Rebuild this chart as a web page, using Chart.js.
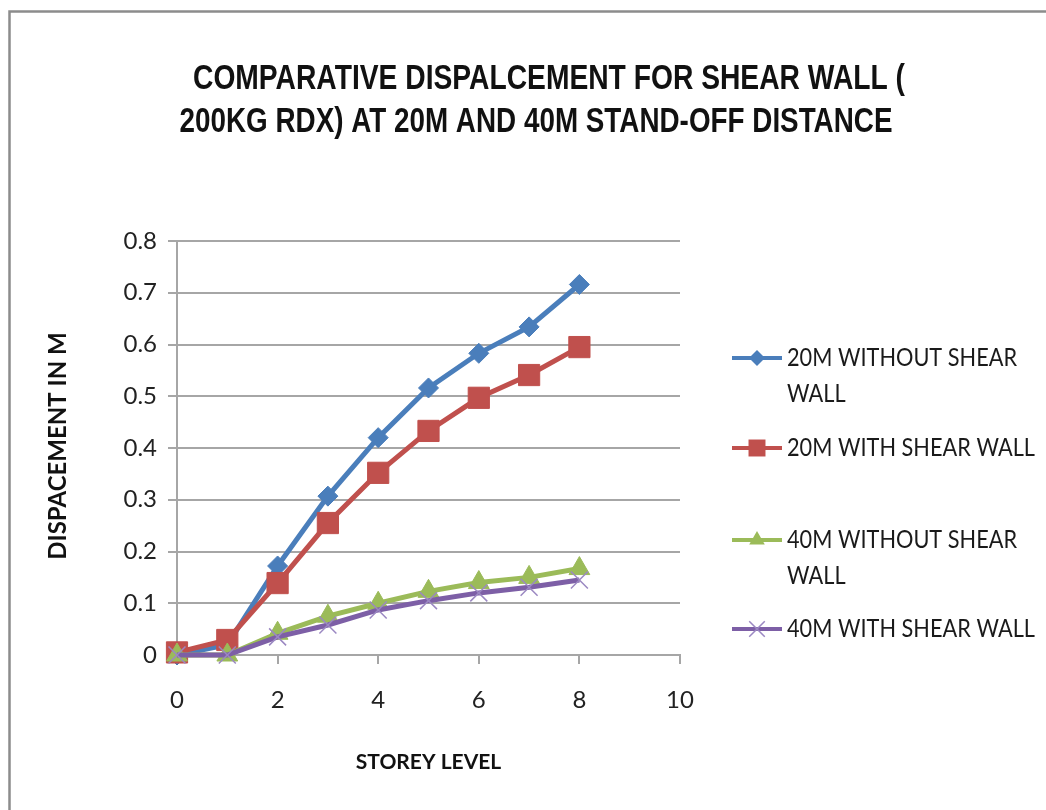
<!DOCTYPE html>
<html>
<head>
<meta charset="utf-8">
<script src="https://cdn.jsdelivr.net/npm/chart.js@4/dist/chart.umd.min.js"></script>
<style>
  html, body { margin: 0; padding: 0; background: #fff; }
  #wrap { width: 1046px; height: 810px; }
</style>
</head>
<body>
<div id="wrap"><canvas id="c" width="1046" height="810"></canvas></div>
<script>
// Storey levels and lateral displacement (m) for each case
const storeys = [0, 1, 2, 3, 4, 5, 6, 7, 8];
const disp20Without = [0, 0.02, 0.172, 0.307, 0.42, 0.516, 0.583, 0.634, 0.716];
const disp20With    = [0.005, 0.029, 0.139, 0.255, 0.352, 0.433, 0.497, 0.541, 0.595];
const disp40Without = [0, 0, 0.042, 0.075, 0.1, 0.123, 0.14, 0.15, 0.167];
const disp40With    = [0, 0, 0.035, 0.058, 0.087, 0.105, 0.12, 0.131, 0.145];

const seriesNames = [
  '20M WITHOUT SHEAR WALL',
  '20M WITH SHEAR WALL',
  '40M WITHOUT SHEAR WALL',
  '40M WITH SHEAR WALL'
];
const titleLines = [
  'COMPARATIVE DISPALCEMENT FOR SHEAR WALL (',
  '200KG RDX) AT 20M AND 40M STAND-OFF DISTANCE'
];
const xTitle = 'STOREY LEVEL';
const yTitle = 'DISPACEMENT IN M';

function pts(values) {
  return storeys.map((s, i) => ({ x: s, y: values[i] }));
}

const BLUE = '#4a7ebb', RED = '#c0504d', GREEN = '#9bbb59', PURPLE = '#7d5fa6', PURPLE_MK = '#9b88c2';

// marker painter used by the side legend
function drawMarker(ctx, style, x, y, r, fill, stroke) {
  ctx.save();
  ctx.beginPath();
  if (style === 'rectRot') {
    ctx.moveTo(x - r, y); ctx.lineTo(x, y - r); ctx.lineTo(x + r, y); ctx.lineTo(x, y + r); ctx.closePath();
    ctx.fillStyle = fill; ctx.fill();
  } else if (style === 'rect') {
    const s = r * Math.SQRT1_2;
    ctx.rect(x - s, y - s, 2 * s, 2 * s);
    ctx.fillStyle = fill; ctx.fill();
  } else if (style === 'triangle') {
    const a = -Math.PI / 2;
    for (let k = 0; k < 3; k++) {
      const t = a + k * 2 * Math.PI / 3;
      const px = x + Math.cos(t) * r, py = y + Math.sin(t) * r;
      k ? ctx.lineTo(px, py) : ctx.moveTo(px, py);
    }
    ctx.closePath();
    ctx.fillStyle = fill; ctx.fill();
  } else if (style === 'crossRot') {
    const d = r * Math.SQRT1_2;
    ctx.moveTo(x - d, y - d); ctx.lineTo(x + d, y + d);
    ctx.moveTo(x + d, y - d); ctx.lineTo(x - d, y + d);
    ctx.strokeStyle = stroke; ctx.lineWidth = 1.5; ctx.stroke();
  }
  ctx.restore();
}

// text squeezed horizontally to a given width
function fittedText(ctx, text, cx, baseline, font, width) {
  ctx.save();
  ctx.font = font;
  const w = ctx.measureText(text).width;
  const k = width / w;
  ctx.translate(cx, baseline);
  ctx.scale(k, 1);
  ctx.textAlign = 'center';
  ctx.textBaseline = 'alphabetic';
  ctx.fillText(text, 0, 0);
  ctx.restore();
}

const decor = {
  id: 'decor',
  beforeDraw(chart) {
    const ctx = chart.ctx;
    ctx.save();
    ctx.fillStyle = '#ffffff';
    ctx.fillRect(0, 0, chart.width, chart.height);
    // outer frame (top and left edges)
    ctx.strokeStyle = '#8c8c8c';
    ctx.lineWidth = 2.5;
    ctx.beginPath();
    ctx.moveTo(9.5, chart.height);
    ctx.lineTo(9.5, 11.5);
    ctx.lineTo(chart.width, 11.5);
    ctx.stroke();
    ctx.restore();
  },
  afterDraw(chart) {
    const ctx = chart.ctx;
    const area = chart.chartArea;
    ctx.save();
    ctx.fillStyle = '#111';
    // title
    fittedText(ctx, titleLines[0], 549, 89, 'bold 35px "Liberation Sans"', 712);
    fittedText(ctx, titleLines[1], 536, 132, 'bold 35px "Liberation Sans"', 713);

    // axis titles
    ctx.textAlign = 'center';
    ctx.textBaseline = 'middle';
    ctx.font = 'bold 21px Lato';
    ctx.fillText(xTitle, (area.left + area.right) / 2, 762);
    ctx.font = 'bold 24px Lato';
    ctx.save();
    ctx.translate(58, 446);
    ctx.rotate(-Math.PI / 2);
    ctx.fillText(yTitle, 0, 0);
    ctx.restore();

    // legend
    const rows = [
      { ds: 0, lines: ['20M WITHOUT SHEAR', 'WALL'], y: 358 },
      { ds: 1, lines: ['20M WITH SHEAR WALL'], y: 448 },
      { ds: 2, lines: ['40M WITHOUT SHEAR', 'WALL'], y: 540 },
      { ds: 3, lines: ['40M WITH SHEAR WALL'], y: 629 }
    ];
    const legendR = { rectRot: 8, rect: 12, triangle: 9, crossRot: 11 };
    const legendFont = '25px Lato';
    ctx.font = legendFont;
    const squeeze = 248 / ctx.measureText('20M WITH SHEAR WALL').width;
    rows.forEach(row => {
      const d = chart.data.datasets[row.ds];
      ctx.strokeStyle = d.borderColor;
      ctx.lineWidth = 4;
      ctx.beginPath();
      ctx.moveTo(732, row.y);
      ctx.lineTo(782, row.y);
      ctx.stroke();
      drawMarker(ctx, d.pointStyle, 757, row.y, legendR[d.pointStyle], d.pointBackgroundColor, d.pointBorderColor);
      ctx.fillStyle = '#1a1a1a';
      ctx.font = legendFont;
      ctx.textAlign = 'left';
      ctx.textBaseline = 'middle';
      row.lines.forEach((t, i) => {
        ctx.save();
        ctx.translate(787, row.y + i * 36);
        ctx.scale(squeeze, 1);
        ctx.fillText(t, 0, 0);
        ctx.restore();
      });
    });
    ctx.restore();
  }
};

new Chart(document.getElementById('c'), {
  type: 'line',
  data: {
    datasets: [
      { label: seriesNames[0], data: pts(disp20Without), borderColor: BLUE, backgroundColor: BLUE,
        pointStyle: 'rectRot', pointRadius: 10, pointBackgroundColor: BLUE, pointBorderColor: BLUE,
        pointBorderWidth: 1, borderWidth: 5, order: 4, clip: false },
      { label: seriesNames[1], data: pts(disp20With), borderColor: RED, backgroundColor: RED,
        pointStyle: 'rect', pointRadius: 15, pointBackgroundColor: RED, pointBorderColor: RED,
        pointBorderWidth: 1, borderWidth: 5, order: 3, clip: false },
      { label: seriesNames[2], data: pts(disp40Without), borderColor: GREEN, backgroundColor: GREEN,
        pointStyle: 'triangle', pointRadius: 12, pointBackgroundColor: GREEN, pointBorderColor: GREEN,
        pointBorderWidth: 1, borderWidth: 5, order: 2, clip: false },
      { label: seriesNames[3], data: pts(disp40With), borderColor: PURPLE, backgroundColor: PURPLE,
        pointStyle: 'crossRot', pointRadius: 12, pointBackgroundColor: PURPLE_MK, pointBorderColor: PURPLE_MK,
        pointBorderWidth: 1.5, borderWidth: 5, order: 1, clip: false }
    ]
  },
  options: {
    responsive: false,
    animation: false,
    layout: { padding: { top: 241, right: 366, left: 0, bottom: 0 } },
    plugins: { legend: { display: false }, title: { display: false }, tooltip: { enabled: false } },
    elements: { line: { tension: 0 } },
    scales: {
      x: {
        type: 'linear', min: 0, max: 10,
        afterFit: s => { s.height = 155; },
        ticks: { stepSize: 2, padding: 22, color: '#222', font: { family: 'Lato', size: 24 } },
        grid: { drawOnChartArea: false, drawTicks: true, tickLength: 9, color: '#a6a6a6', lineWidth: 2 },
        border: { color: '#a6a6a6', width: 2 }
      },
      y: {
        type: 'linear', min: 0, max: 0.8,
        afterFit: s => { s.width = 177; },
        ticks: { stepSize: 0.1, padding: 11, color: '#222', font: { family: 'Lato', size: 24 },
                 callback: v => Number(v.toFixed(1)).toString() },
        grid: { drawTicks: true, tickLength: 9, color: '#a6a6a6', lineWidth: 2 },
        border: { color: '#a6a6a6', width: 2 }
      }
    }
  },
  plugins: [decor]
});
</script>
</body>
</html>
